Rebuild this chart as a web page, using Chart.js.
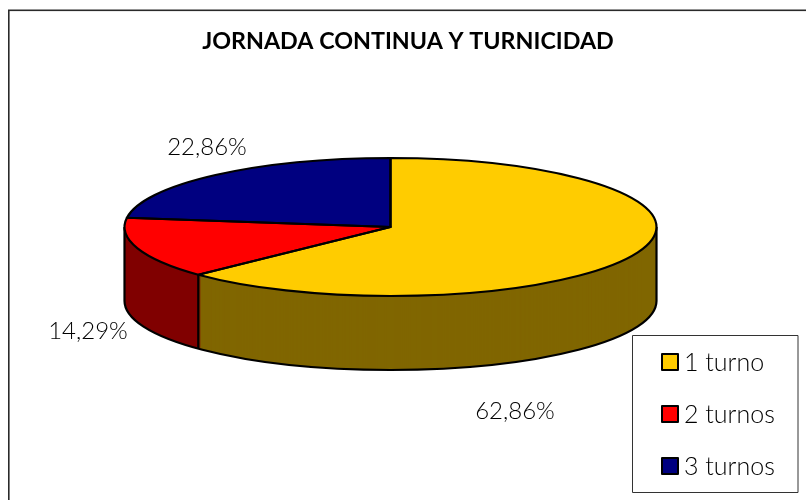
<!DOCTYPE html>
<html><head><meta charset="utf-8">
<script src="https://cdn.jsdelivr.net/npm/chart.js@4"></script>
<style>html,body{margin:0;padding:0;background:#fff}#w{position:relative;width:806px;height:500px}</style>
</head><body><div id="w"><canvas id="c" width="806" height="500"></canvas></div>
<script>
const titleText = 'JORNADA CONTINUA Y TURNICIDAD';
const categories = ['1 turno', '2 turnos', '3 turnos'];
const percentages = [62.86, 14.29, 22.86];
const valueLabels = ['62,86%', '14,29%', '22,86%'];
const topColors = ['#FFCC00', '#FF0000', '#000080'];
const sideColors = ['#806600', '#800000', '#000040'];
const labelPositions = [[515, 419], [88, 339], [207, 155]];
const legendRows = [362, 414, 466];

const CX = 390.5, CY = 227, RX = 266, RY = 69, DEPTH = 74;
const FONT = 'Lato, "Open Sans", sans-serif';
const LINE = 2.2;

function squash(ctx, arc) {
  ctx.translate(CX, CY);
  ctx.scale(RX / arc.outerRadius, RY / arc.outerRadius);
  ctx.translate(-arc.x, -arc.y);
}

const pie3d = {
  id: 'pie3d',
  beforeDraw(chart) {
    const ctx = chart.ctx;
    ctx.save();
    ctx.fillStyle = '#fff';
    ctx.fillRect(0, 0, 806, 500);
    ctx.strokeStyle = '#2a2a2a';
    ctx.lineWidth = 1.6;
    ctx.strokeRect(8.8, 10.3, 840, 540);
    ctx.restore();
  },
  beforeDatasetsDraw(chart) {
    const ctx = chart.ctx, arcs = chart.getDatasetMeta(0).data;
    // extruded wall: the same arcs drawn repeatedly, shifted down
    for (let d = DEPTH; d >= 0; d--) {
      arcs.forEach((arc, i) => {
        ctx.save();
        ctx.translate(0, d);
        squash(ctx, arc);
        ctx.beginPath();
        ctx.moveTo(arc.x, arc.y);
        ctx.arc(arc.x, arc.y, arc.outerRadius, arc.startAngle, arc.endAngle);
        ctx.closePath();
        ctx.fillStyle = sideColors[i];
        ctx.fill();
        ctx.restore();
      });
    }
    // wall outlines
    ctx.save();
    ctx.strokeStyle = '#000';
    ctx.lineWidth = LINE;
    ctx.lineJoin = 'round';
    ctx.save();
    ctx.translate(0, DEPTH);
    squash(ctx, arcs[0]);
    ctx.beginPath();
    ctx.arc(arcs[0].x, arcs[0].y, arcs[0].outerRadius, 0, Math.PI);
    ctx.restore();
    ctx.stroke();
    ctx.beginPath();
    ctx.moveTo(CX - RX, CY); ctx.lineTo(CX - RX, CY + DEPTH);
    ctx.moveTo(CX + RX, CY); ctx.lineTo(CX + RX, CY + DEPTH);
    const a = arcs[0].endAngle;
    const x = CX + RX * Math.cos(a), y = CY + RY * Math.sin(a);
    ctx.moveTo(x, y); ctx.lineTo(x, y + DEPTH);
    ctx.stroke();
    ctx.restore();
    // squash the top face, drawn by the library
    ctx.save();
    squash(ctx, arcs[0]);
  },
  afterDatasetsDraw(chart) {
    const ctx = chart.ctx, arcs = chart.getDatasetMeta(0).data;
    ctx.restore();
    ctx.save();
    // top-face outlines with an even pen width
    arcs.forEach(arc => {
      ctx.save();
      squash(ctx, arc);
      ctx.beginPath();
      ctx.moveTo(arc.x, arc.y);
      ctx.arc(arc.x, arc.y, arc.outerRadius, arc.startAngle, arc.endAngle);
      ctx.closePath();
      ctx.restore();
      ctx.strokeStyle = '#000';
      ctx.lineWidth = LINE;
      ctx.lineJoin = 'round';
      ctx.stroke();
    });
    // title
    ctx.fillStyle = '#000';
    ctx.textAlign = 'center';
    ctx.textBaseline = 'alphabetic';
    ctx.font = 'bold 23.3px ' + FONT;
    ctx.fillText(titleText, 408, 49);
    // value labels
    ctx.font = '300 24px ' + FONT;
    ctx.fillStyle = '#000';
    valueLabels.forEach((t, i) => ctx.fillText(t, labelPositions[i][0], labelPositions[i][1]));
    // legend
    ctx.fillStyle = '#fff';
    ctx.strokeStyle = '#333';
    ctx.lineWidth = 1;
    ctx.fillRect(632.5, 335.5, 165.5, 157);
    ctx.strokeRect(632.5, 335.5, 165.5, 157);
    ctx.textAlign = 'left';
    categories.forEach((c, i) => {
      const y = legendRows[i];
      ctx.fillStyle = topColors[i];
      ctx.strokeStyle = '#000';
      ctx.lineWidth = 2;
      ctx.fillRect(662, y - 8, 16, 16);
      ctx.strokeRect(662, y - 8, 16, 16);
      ctx.fillStyle = '#000';
      ctx.font = '300 25px ' + FONT;
      ctx.fillText(c, 684, y + 9);
    });
    ctx.restore();
  }
};

new Chart(document.getElementById('c'), {
  type: 'pie',
  data: {
    labels: categories,
    datasets: [{
      data: percentages,
      backgroundColor: topColors,
      borderWidth: 0
    }]
  },
  options: {
    responsive: false,
    animation: false,
    layout: { padding: 0 },
    plugins: { legend: { display: false }, title: { display: false }, tooltip: { enabled: false } }
  },
  plugins: [pie3d]
});
</script></body></html>
